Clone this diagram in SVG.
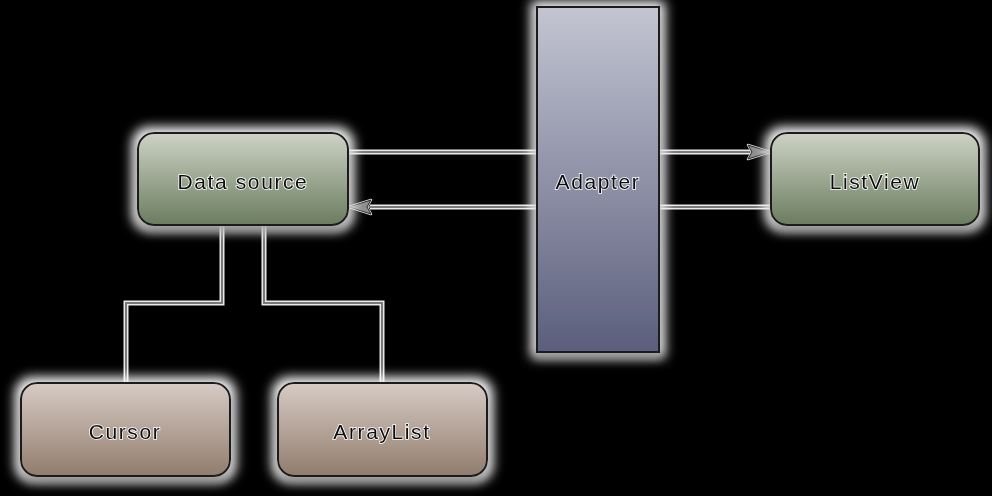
<svg xmlns="http://www.w3.org/2000/svg" width="992" height="496" viewBox="0 0 992 496">
<defs>
<linearGradient id="gGreen" x1="0" y1="0" x2="0" y2="1"><stop offset="0" stop-color="#cdd3c5"/><stop offset="1" stop-color="#6b7c5f"/></linearGradient>
<linearGradient id="gBlue" x1="0" y1="0" x2="0" y2="1"><stop offset="0" stop-color="#c3c5d2"/><stop offset="1" stop-color="#5a5e7c"/></linearGradient>
<linearGradient id="gBrown" x1="0" y1="0" x2="0" y2="1"><stop offset="0" stop-color="#d7cbc5"/><stop offset="1" stop-color="#917c6c"/></linearGradient>
<filter id="glow" x="-20%" y="-20%" width="140%" height="150%">
<feMorphology in="SourceAlpha" operator="dilate" radius="5" result="d"/>
<feGaussianBlur in="d" stdDeviation="6" result="b"/>
<feFlood flood-color="#ffffff"/>
<feComposite in2="b" operator="in" result="w"/>
<feGaussianBlur in="SourceAlpha" stdDeviation="4" result="s"/>
<feOffset in="s" dy="6" result="so"/>
<feFlood flood-color="#000" flood-opacity="0.55"/>
<feComposite in2="so" operator="in" result="sh"/>
<feMerge><feMergeNode in="w"/><feMergeNode in="sh"/><feMergeNode in="SourceGraphic"/></feMerge>
</filter>
<marker id="arr" markerWidth="26" markerHeight="18" refX="23" refY="8" orient="auto" markerUnits="userSpaceOnUse" viewBox="0 0 26 18" overflow="visible">
<path d="M1,1 L23,8 L1,15 L5,8 Z" fill="#8c8c8c" stroke="#d8d8d8" stroke-width="2.5" stroke-linejoin="round"/>
<path d="M1,1 L23,8 L1,15 L5,8 Z" fill="#8c8c8c" stroke="#2a2a2a" stroke-width="1" stroke-linejoin="round"/>
</marker>
</defs>
<style>
.halo{fill:none;stroke:#e8e8e8;stroke-width:5}
.ln{fill:none;stroke:#7a7a7a;stroke-width:2}
.node{stroke:#1e1e1e;stroke-width:2}
.lbl{font-family:"Liberation Sans",Arial,sans-serif;font-size:21px;letter-spacing:1.6px;fill:#111111;stroke:#ffffff;stroke-width:1.6;paint-order:stroke;text-anchor:middle}
</style>
<rect x="0" y="0" width="992" height="496" fill="#000"/>
<g id="connectors">
<path class="halo" d="M348,152 H537 M659,152 H750"/>
<path class="halo" d="M771,207 H659 M537,207 H370"/>
<path class="halo" d="M222,225 V303 H126 V383 M264,225 V303 H382 V383"/>
<path class="ln" d="M348,152 H537"/>
<path class="ln" d="M659,152 H770" marker-end="url(#arr)"/>
<path class="ln" d="M771,207 H659"/>
<path class="ln" d="M537,207 H349" marker-end="url(#arr)"/>
<path class="ln" d="M222,225 V303 H126 V383 M264,225 V303 H382 V383"/>
</g>
<g id="adapter" filter="url(#glow)">
<rect class="node" x="537" y="7" width="122" height="345" fill="url(#gBlue)"/>
<text class="lbl" x="598" y="189">Adapter</text>
</g>
<g id="datasource" filter="url(#glow)">
<rect class="node" x="138" y="133" width="210" height="92" rx="16" fill="url(#gGreen)"/>
<text class="lbl" x="243" y="189">Data source</text>
</g>
<g id="listview" filter="url(#glow)">
<rect class="node" x="771" y="133" width="208" height="92" rx="16" fill="url(#gGreen)"/>
<text class="lbl" x="875" y="189">ListView</text>
</g>
<g id="cursor" filter="url(#glow)">
<rect class="node" x="21" y="383" width="209" height="93" rx="16" fill="url(#gBrown)"/>
<text class="lbl" x="125" y="439">Cursor</text>
</g>
<g id="arraylist" filter="url(#glow)">
<rect class="node" x="278" y="383" width="209" height="93" rx="16" fill="url(#gBrown)"/>
<text class="lbl" x="382" y="439">ArrayList</text>
</g>
</svg>
